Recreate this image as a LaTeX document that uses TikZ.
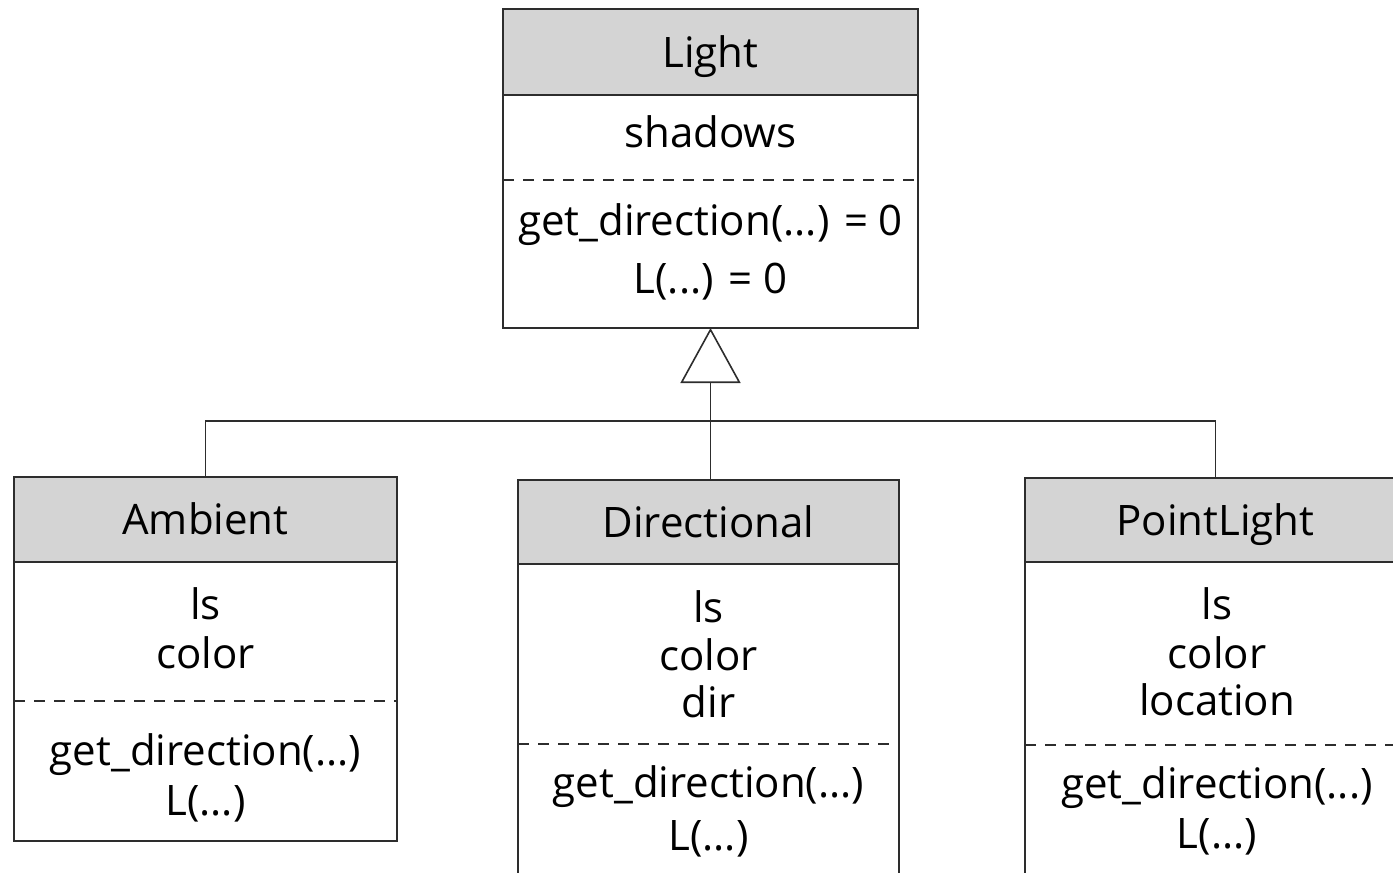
\documentclass[tikz,border=0pt]{standalone}
\usepackage{fontspec}
\setmainfont{Open Sans}
\usetikzlibrary{arrows.meta}
\definecolor{hdfill}{RGB}{212,212,212}
\definecolor{edge}{RGB}{45,45,45}
\begin{document}
\begin{tikzpicture}[x=1pt,y=-1pt,
  box/.style={draw=edge, line width=1.6pt, anchor=north west, inner sep=0pt, outer sep=0pt},
  headbox/.style={box, fill=hdfill, font=\fontsize{42}{50}\selectfont, text height=30pt, text depth=0pt},
  txt/.style={anchor=base, inner sep=0pt, font=\fontsize{42}{50}\selectfont},
  sep/.style={draw=edge, line width=1.4pt, dash pattern=on 11pt off 9pt},
  conn/.style={draw=edge, line width=1.6pt}]
\useasboundingbox (0,0) rectangle (1393,873);
\clip (0,0) rectangle (1393,873);

% Light
\node[box, minimum width=415pt, minimum height=233pt] (lightbody) at (503,95) {};
\node[headbox, minimum width=415pt, minimum height=86pt] (lighthead) at (503,9) {Light};
\node[txt] (lighta1) at (710.5,147) {shadows};
\draw[sep] (503,180) -- (918,180);
\node[txt] (lighto1) at (710.5,235) {get\_direction(...) = 0};
\node[txt] (lighto2) at (710.5,293) {L(...) = 0};

% Ambient
\node[box, minimum width=383pt, minimum height=279pt] (ambbody) at (14,562) {};
\node[headbox, minimum width=383pt, minimum height=85pt] (ambhead) at (14,477) {Ambient};
\node[txt] (amba1) at (205.5,619) {ls};
\node[txt] (amba2) at (205.5,668) {color};
\draw[sep] (14,701) -- (397,701);
\node[txt] (ambo1) at (205.5,765) {get\_direction(...)};
\node[txt] (ambo2) at (205.5,815) {L(...)};

% Directional
\node[box, minimum width=381pt, minimum height=340pt] (dirbody) at (518,564) {};
\node[headbox, minimum width=381pt, minimum height=84pt] (dirhead) at (518,480) {Directional};
\node[txt] (dira1) at (708.5,622) {ls};
\node[txt] (dira2) at (708.5,670) {color};
\node[txt] (dira3) at (708.5,717) {dir};
\draw[sep] (518,744) -- (899,744);
\node[txt] (diro1) at (708.5,797) {get\_direction(...)};
\node[txt] (diro2) at (708.5,850) {L(...)};

% PointLight
\node[box, minimum width=381pt, minimum height=340pt] (ptbody) at (1025,562) {};
\node[headbox, minimum width=381pt, minimum height=84pt] (pthead) at (1025,478) {PointLight};
\node[txt] (pta1) at (1217,619) {ls};
\node[txt] (pta2) at (1217,668) {color};
\node[txt] (pta3) at (1217,715) {location};
\draw[sep] (1025,745) -- (1406,745);
\node[txt] (pto1) at (1217,798) {get\_direction(...)};
\node[txt] (pto2) at (1217,848) {L(...)};

% Generalization
\coordinate (join) at (710,421);
\draw[conn] (ambhead.north) |- (join) -| (pthead.north);
\draw[conn, -{Triangle[open, fill=white, length=55pt, width=60pt]}] (lightbody.south |- dirhead.north) -- (lightbody.south);
\end{tikzpicture}
\end{document}
